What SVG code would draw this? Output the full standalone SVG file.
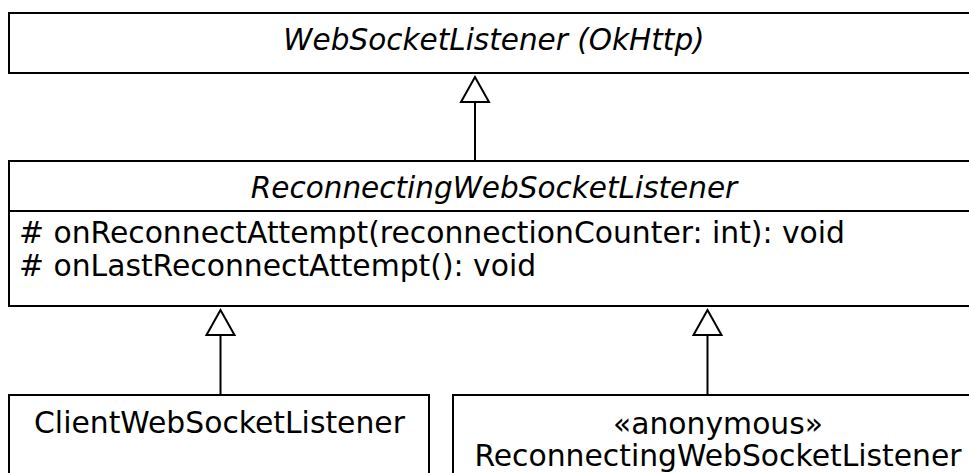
<svg xmlns="http://www.w3.org/2000/svg" width="969" height="473" viewBox="0 0 969 473">
  <style>
    .box { fill: #ffffff; stroke: #000000; stroke-width: 2; }
    .sep { stroke: #000000; stroke-width: 2; }
    .edge { stroke: #000000; stroke-width: 2; fill: none; }
    .head { fill: #ffffff; stroke: #000000; stroke-width: 2; stroke-linejoin: miter; }
    text { font-family: "DejaVu Sans", "Liberation Sans", sans-serif; font-size: 29.8px; fill: #000000; }
    .title { text-anchor: middle; }
    .abstract { font-style: italic; font-size: 29.5px; }
  </style>
  <rect x="0" y="0" width="969" height="473" fill="#ffffff"/>

  <g id="connectors">
    <!-- ReconnectingWebSocketListener extends WebSocketListener -->
    <line class="edge" x1="475" y1="102" x2="475" y2="161"/>
    <polygon class="head" points="475,77 461,102 489,102"/>
    <!-- ClientWebSocketListener extends ReconnectingWebSocketListener -->
    <line class="edge" x1="220.5" y1="335" x2="220.5" y2="395"/>
    <polygon class="head" points="220.5,310 206.5,335 234.5,335"/>
    <!-- anonymous subclass extends ReconnectingWebSocketListener -->
    <line class="edge" x1="707.5" y1="335" x2="707.5" y2="395"/>
    <polygon class="head" points="707.5,310 693.5,335 721.5,335"/>
  </g>

  <g id="node-websocketlistener">
    <rect class="box" x="9" y="13" width="970" height="60"/>
    <text class="title abstract" x="494" y="50">WebSocketListener (OkHttp)</text>
  </g>

  <g id="node-reconnecting">
    <rect class="box" x="9" y="161" width="970" height="145"/>
    <text class="title abstract" x="494" y="198">ReconnectingWebSocketListener</text>
    <line class="sep" x1="9" y1="211" x2="979" y2="211"/>
    <text x="19" y="243"># onReconnectAttempt(reconnectionCounter: int): void</text>
    <text x="19" y="276"># onLastReconnectAttempt(): void</text>
  </g>

  <g id="node-client">
    <rect class="box" x="9" y="395" width="420" height="100"/>
    <text class="title" x="219.5" y="433">ClientWebSocketListener</text>
  </g>

  <g id="node-anonymous">
    <rect class="box" x="453" y="395" width="530" height="100"/>
    <text class="title" x="718" y="434">«anonymous»</text>
    <text class="title" x="718" y="466">ReconnectingWebSocketListener</text>
  </g>
</svg>
